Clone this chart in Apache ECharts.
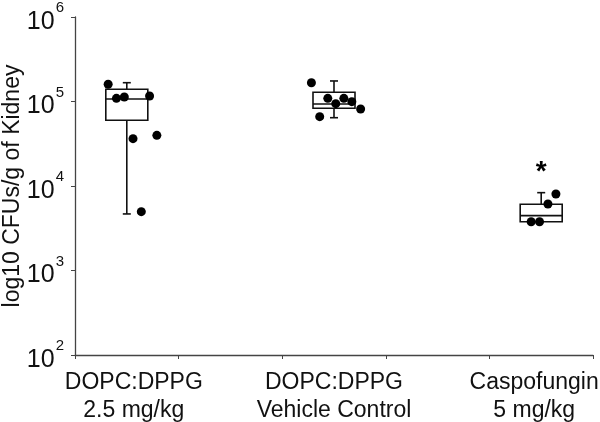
<!DOCTYPE html>
<html>
<head>
<meta charset="utf-8">
<script src="https://cdn.jsdelivr.net/npm/echarts@6/dist/echarts.min.js"></script>
<style>
  html, body { margin: 0; padding: 0; background: #fff; }
  #chart { width: 600px; height: 422px; }
</style>
</head>
<body>
<div id="chart"></div>
<script>
// groups on the x axis (empty slots only carry the extra ticks)
var categories = ['DOPC:DPPG\n2.5 mg/kg', '', 'DOPC:DPPG\nVehicle Control', '', 'Caspofungin\n5 mg/kg'];

// box stats: [category index, min, Q1, median, Q3, max]
var boxStats = [
    [0, 4670, 59900, 107100, 139400, 166900],
    [2, 64300, 83100, 93400, 128500, 175000],
    [4, 3780, 3780, 4460, 6070, 8340]
];

// individual animals: [offset from group centre, CFU/g]
var dopcPoints = [[-0.18, 160000], [-0.10, 109000], [-0.024, 113000], [0.22, 116000], [0.06, 36300], [0.29, 39800], [0.14, 4970]];
var vehiclePoints = [[-0.218, 166900], [-0.06, 109000], [0.095, 109000], [0.017, 94200], [0.172, 99500], [0.257, 81500], [-0.138, 66100]];
var caspoPoints = [[0.065, 6120], [0.142, 8040], [-0.097, 3780], [-0.016, 3780]];

// significance mark: [category index, value it sits above]
var sigMarks = [[4, 8340]];

var chart = echarts.init(document.getElementById('chart'));

function shift(points, idx) {
    return points.map(function (p) { return [idx + 0.5 + p[0], p[1]]; });
}

function renderBox(params, api) {
    var x = api.value(0);
    var pMin = api.coord([x, api.value(1)]);
    var pQ1 = api.coord([x, api.value(2)]);
    var pMed = api.coord([x, api.value(3)]);
    var pQ3 = api.coord([x, api.value(4)]);
    var pMax = api.coord([x, api.value(5)]);
    var cx = pMed[0], half = 21, cap = 4;
    var st = { stroke: '#111', lineWidth: 1.6, fill: null };
    var kids = [
        { type: 'line', shape: { x1: cx, y1: pQ3[1], x2: cx, y2: pMax[1] }, style: st },
        { type: 'line', shape: { x1: cx - cap, y1: pMax[1], x2: cx + cap, y2: pMax[1] }, style: st },
        { type: 'rect', shape: { x: cx - half, y: pQ3[1], width: half * 2, height: pQ1[1] - pQ3[1] }, style: { stroke: '#111', lineWidth: 1.6, fill: '#fff' } },
        { type: 'line', shape: { x1: cx - half, y1: pMed[1], x2: cx + half, y2: pMed[1] }, style: st }
    ];
    if (pMin[1] - pQ1[1] > 1) {
        kids.push({ type: 'line', shape: { x1: cx, y1: pQ1[1], x2: cx, y2: pMin[1] }, style: st });
        kids.push({ type: 'line', shape: { x1: cx - cap, y1: pMin[1], x2: cx + cap, y2: pMin[1] }, style: st });
    }
    return { type: 'group', children: kids };
}

var supMap = { 100: '2', 1000: '3', 10000: '4', 100000: '5', 1000000: '6' };
var font = '"Liberation Sans", Arial, sans-serif';

var option = {
    animation: false,
    backgroundColor: '#fff',
    textStyle: { fontFamily: font },
    grid: { left: 75, right: 7, top: 17, bottom: 67, outerBoundsMode: 'none', containLabel: false },
    xAxis: [
        {
            type: 'category',
            data: [
                { value: categories[0], textStyle: { padding: [0, 0, 0, 14] } },
                categories[1], categories[2], categories[3],
                { value: categories[4], textStyle: { padding: [0, 14, 0, 0] } }
            ],
            boundaryGap: true,
            axisLine: { lineStyle: { color: '#444', width: 1.3 } },
            axisTick: { show: true, interval: 0, length: 4, lineStyle: { color: '#444' } },
            axisLabel: { interval: 0, color: '#111', fontSize: 23, lineHeight: 28, margin: 14, fontFamily: font, hideOverlap: false }
        },
        { type: 'value', min: 0, max: 5, show: false }
    ],
    yAxis: {
        type: 'log',
        logBase: 10,
        min: 100,
        max: 1000000,
        name: 'log10 CFUs/g of Kidney',
        nameLocation: 'middle',
        nameGap: 51,
        nameMoveOverlap: false,
        nameTextStyle: { color: '#111', fontSize: 23, fontFamily: font },
        axisLine: { show: true, lineStyle: { color: '#444', width: 1.3 } },
        axisTick: { show: true, length: 4, lineStyle: { color: '#444' } },
        splitLine: { show: false },
        axisLabel: {
            margin: 11,
            formatter: function (v) { return '{b|10}{s|' + supMap[Math.round(v)] + '}'; },
            rich: {
                b: { fontSize: 25, color: '#111', fontFamily: font, padding: [10, 0, 0, 0] },
                s: { fontSize: 15, color: '#111', fontFamily: font, padding: [0, 0, 18, 1] }
            }
        }
    },
    series: [
        {
            type: 'custom',
            xAxisIndex: 0,
            renderItem: renderBox,
            encode: { x: 0, y: [1, 2, 3, 4, 5] },
            data: boxStats,
            z: 2
        },
        {
            type: 'scatter',
            xAxisIndex: 1,
            symbolSize: 9,
            itemStyle: { color: '#000', opacity: 1 },
            data: shift(dopcPoints, 0).concat(shift(vehiclePoints, 2), shift(caspoPoints, 4)),
            z: 5
        },
        {
            type: 'scatter',
            xAxisIndex: 1,
            symbolSize: 1,
            itemStyle: { color: '#fff', opacity: 0 },
            emphasis: { disabled: true },
            data: sigMarks.map(function (m) { return [m[0] + 0.5, m[1]]; }),
            label: {
                show: true,
                position: 'top',
                distance: 6,
                formatter: '*',
                color: '#000',
                opacity: 1,
                fontSize: 28,
                fontWeight: 'bold',
                fontFamily: font
            },
            z: 6
        }
    ]
};

chart.setOption(option);
</script>
</body>
</html>
